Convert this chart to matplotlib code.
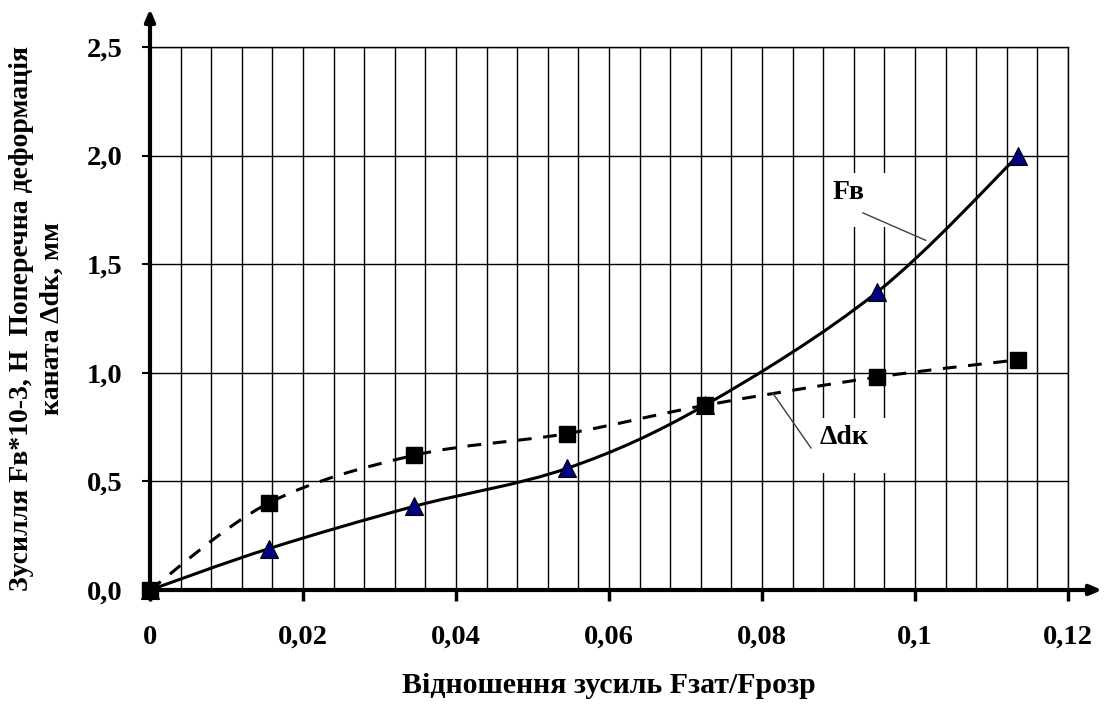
import numpy as np
import matplotlib
matplotlib.use('Agg')
import matplotlib.pyplot as plt
from matplotlib.path import Path
from matplotlib.patches import PathPatch, Rectangle
from matplotlib.ticker import MultipleLocator, FuncFormatter

plt.rcParams['font.family'] = ['Liberation Serif', 'DejaVu Serif']
plt.rcParams['font.weight'] = 'bold'
plt.rcParams['axes.labelweight'] = 'bold'

# дані
ratio = [0.0, 0.0155, 0.0345, 0.0545, 0.0725, 0.095, 0.1135]
force = [0.0, 0.19, 0.385, 0.56, 0.85, 1.37, 2.0]        # Fв*10-3, Н
deform = [0.0, 0.40, 0.62, 0.72, 0.85, 0.98, 1.06]      # Δdк, мм

y_ticks = [0.0, 0.5, 1.0, 1.5, 2.0, 2.5]


def smooth_path(xs, ys):
    # згладжена лінія як в Excel (кубічні криві Безьє через точки)
    p = np.column_stack([xs, ys])
    n = len(p)
    verts = [p[0]]
    codes = [Path.MOVETO]
    for i in range(n - 1):
        p0 = p[i - 1] if i > 0 else p[i]
        p3 = p[i + 2] if i + 2 < n else p[i + 1]
        verts += [p[i] + (p[i + 1] - p0) / 6, p[i + 1] - (p3 - p[i]) / 6, p[i + 1]]
        codes += [Path.CURVE4] * 3
    return Path(verts, codes)


def fmt(v, pos):
    return ('%g' % round(v, 3)).replace('.', ',')


fig = plt.figure(figsize=(11.04, 7.04), dpi=100)
ax = fig.add_axes([150 / 1104, 1 - 590 / 704, 918 / 1104, 543 / 704])

ax.set_xlim(0, 0.12)
ax.set_ylim(0, 2.5)
ax.xaxis.set_major_locator(MultipleLocator(0.02))
ax.xaxis.set_minor_locator(MultipleLocator(0.004))
ax.set_yticks(y_ticks)
ax.xaxis.set_major_formatter(FuncFormatter(fmt))
ax.yaxis.set_major_formatter(FuncFormatter(lambda v, p: ('%.1f' % v).replace('.', ',')))

ax.grid(True, which='both', axis='x', color='black', lw=1)
ax.grid(True, which='major', axis='y', color='black', lw=1)
ax.set_axisbelow(True)

ax.tick_params(axis='x', which='major', length=8, width=2.5, direction='out',
               labelsize=20.5, pad=17)
ax.tick_params(axis='x', which='minor', length=0)
ax.tick_params(axis='y', length=6, width=1.5, direction='out', labelsize=20.5, pad=14)

for s in ['top', 'right']:
    ax.spines[s].set_linewidth(1)
for s in ['left', 'bottom']:
    ax.spines[s].set_visible(False)

# осі зі стрілками
ax.annotate('', xy=(0, 1.07), xytext=(0, -0.005), xycoords='axes fraction',
            arrowprops=dict(arrowstyle='-|>,head_length=0.7,head_width=0.3',
                            lw=3, color='black', shrinkA=0, shrinkB=0))
ax.annotate('', xy=(1.037, 0), xytext=(-0.003, 0), xycoords='axes fraction',
            arrowprops=dict(arrowstyle='-|>,head_length=0.7,head_width=0.3',
                            lw=3, color='black', shrinkA=0, shrinkB=0))

ax.add_patch(PathPatch(smooth_path(ratio, force), fill=False, lw=2.2,
                       color='black', zorder=3, capstyle='butt'))
ax.add_patch(PathPatch(smooth_path(ratio, deform), fill=False, lw=2.2,
                       color='black', linestyle=(0, (4.5, 3.8)), zorder=3))

ax.plot(ratio, force, linestyle='none', marker='^', markersize=13,
        markerfacecolor='#000080', markeredgecolor='black', markeredgewidth=0.8,
        zorder=5, clip_on=False)
ax.plot(ratio, deform, linestyle='none', marker='s', markersize=12,
        markerfacecolor='black', markeredgecolor='black', zorder=5, clip_on=False)

# підписи кривих з білими підкладками
ax.add_patch(Rectangle((0.0890, 1.67), 0.0078, 0.25, facecolor='white',
                       edgecolor='none', zorder=2))
ax.add_patch(Rectangle((0.0870, 0.54), 0.0098, 0.25, facecolor='white',
                       edgecolor='none', zorder=2))
ax.text(0.0913, 1.83, 'Fв', fontsize=20, ha='center', va='center', zorder=4)
ax.text(0.0907, 0.70, 'Δdк', fontsize=20, ha='center', va='center', zorder=4)
ax.plot([0.0932, 0.1014], [1.736, 1.61], color='#404040', lw=1, zorder=4)
ax.plot([0.0814, 0.0864], [0.907, 0.654], color='#404040', lw=1, zorder=4)

ax.set_xlabel('Відношення зусиль Fзат/Fрозр', fontsize=21.5, labelpad=16)
ax.set_ylabel('Зусилля Fв*10-3, Н  Поперечна деформація\nканата Δdк, мм',
              fontsize=20, labelpad=16, linespacing=1.25)

fig.savefig('out.png', dpi=100)
